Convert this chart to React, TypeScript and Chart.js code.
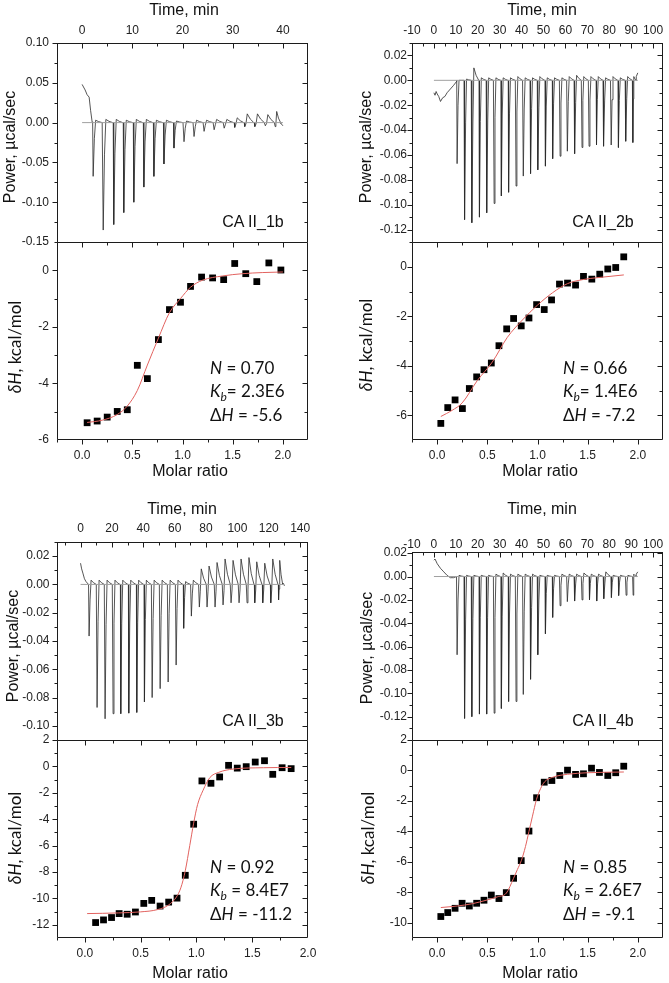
import React, { useEffect, useRef } from "react";
import { Chart, registerables } from "chart.js";
Chart.register(...registerables);

// ================= DATA =================
// ---- Panel 1 : CA II_1b ----
const p1TimeTicks = [0, 10, 20, 30, 40];
const p1PowerTicks = [-0.15, -0.1, -0.05, 0.0, 0.05, 0.1];
const p1DhTicks = [-6, -4, -2, 0];
const p1StartTrace = [[0, 0.048], [0.6, 0.041], [1.0, 0.035], [1.4, 0.032], [1.7, 0.015], [2.0, 0.001]];
const p1InjTimes = [2.1, 4.1, 6.2, 8.2, 10.2, 12.2, 14.2, 16.2, 18.2, 20.2, 22.2, 24.2, 26.2, 28.2, 30.3, 32.3, 34.3, 36.4, 38.4];
const p1PeakPower = [-0.0675, -0.135, -0.128, -0.113, -0.1, -0.081, -0.0675, -0.052, -0.032, -0.024, -0.0175, -0.011, -0.009, -0.007, -0.006, -0.005, -0.005, -0.004, -0.005];
const p1AfterPower = [0.003, 0.004, 0.004, 0.003, 0.004, 0.004, 0.003, 0.003, 0.002, 0.002, 0.003, 0.003, 0.004, 0.004, 0.006, 0.011, 0.011, 0.01, 0.014];
const p1EndTrace = [[39.6, -0.001], [40, -0.004]];
const p1BaseSpan = [0, 40];
const p1Molar = [0.05, 0.15, 0.25, 0.35, 0.45, 0.55, 0.65, 0.76, 0.87, 0.98, 1.08, 1.19, 1.3, 1.41, 1.52, 1.63, 1.74, 1.86, 1.98];
const p1Heat = [-5.39, -5.33, -5.19, -4.99, -4.93, -3.36, -3.83, -2.45, -1.39, -1.13, -0.57, -0.24, -0.27, -0.33, 0.24, -0.12, -0.4, 0.26, 0.01];
const p1FitMolar = [0.05, 0.2, 0.35, 0.45, 0.55, 0.65, 0.76, 0.87, 0.98, 1.08, 1.2, 1.4, 1.6, 1.8, 2.0];
const p1FitHeat = [-5.38, -5.3, -5.1, -4.8, -4.25, -3.35, -2.4, -1.5, -1.0, -0.6, -0.35, -0.2, -0.12, -0.08, -0.06];

// ---- Panel 2 : CA II_2b ----
const p2TimeTicks = [-10, 0, 10, 20, 30, 40, 50, 60, 70, 80, 90, 100];
const p2PowerTicks = [-0.12, -0.1, -0.08, -0.06, -0.04, -0.02, 0.0, 0.02];
const p2DhTicks = [-6, -4, -2, 0];
const p2StartTrace = [[0, -0.01], [0.5, -0.012], [1.0, -0.009], [1.5, -0.011], [2.2, -0.013], [3.0, -0.017], [4.0, -0.014], [5.0, -0.013], [6.0, -0.01], [7.5, -0.007], [9.0, -0.004], [10.3, -0.001]];
const p2InjTimes = [10.4, 13.9, 17.2, 20.6, 24.0, 27.3, 30.6, 33.9, 37.3, 40.6, 44.0, 47.3, 50.7, 54.0, 57.4, 60.7, 64.1, 67.4, 70.6, 74.0, 77.3, 80.7, 84.0, 87.4, 90.7];
const p2PeakPower = [-0.067, -0.112, -0.1145, -0.11, -0.1065, -0.099, -0.093, -0.09, -0.085, -0.077, -0.075, -0.072, -0.069, -0.063, -0.061, -0.057, -0.059, -0.054, -0.053, -0.052, -0.053, -0.052, -0.054, -0.049, -0.05];
const p2AfterPower = [0.0, 0.001, 0.01, 0.002, 0.002, 0.002, 0.002, 0.002, 0.003, 0.002, 0.002, 0.003, 0.002, 0.002, 0.002, 0.003, 0.004, 0.003, 0.003, 0.003, 0.002, 0.003, 0.002, 0.003, 0.003];
const p2EndTrace = [[92.3, 0.003], [93, 0.006]];
const p2BaseSpan = [0, 93];
const p2Molar = [0.037, 0.106, 0.179, 0.252, 0.321, 0.394, 0.467, 0.54, 0.616, 0.693, 0.762, 0.838, 0.915, 0.991, 1.067, 1.14, 1.219, 1.299, 1.379, 1.458, 1.541, 1.62, 1.7, 1.779, 1.859];
const p2Heat = [-6.33, -5.69, -5.38, -5.73, -4.92, -4.45, -4.16, -3.89, -3.19, -2.51, -2.09, -2.39, -2.07, -1.53, -1.73, -1.34, -0.7, -0.66, -0.74, -0.39, -0.5, -0.3, -0.09, -0.03, 0.4];
const p2FitMolar = [0.037, 0.15, 0.25, 0.4, 0.55, 0.7, 0.85, 1.0, 1.15, 1.3, 1.45, 1.6, 1.86];
const p2FitHeat = [-6.05, -5.8, -5.5, -4.6, -3.85, -2.85, -2.15, -1.55, -1.05, -0.68, -0.52, -0.44, -0.33];

// ---- Panel 3 : CA II_3b ----
const p3TimeTicks = [0, 20, 40, 60, 80, 100, 120, 140];
const p3PowerTicks = [-0.1, -0.08, -0.06, -0.04, -0.02, 0.0, 0.02];
const p3DhTicks = [-12, -10, -8, -6, -4, -2, 0, 2];
const p3StartTrace = [[0, 0.015], [0.7, 0.011], [1.5, 0.008], [2.5, 0.004], [3.5, 0.002], [5.1, 0.0]];
const p3InjTimes = [5.2, 10.3, 15.4, 20.5, 25.4, 30.5, 35.6, 40.5, 45.4, 50.5, 55.6, 60.7, 65.5, 70.4, 75.5, 80.4, 85.5, 90.6, 95.7, 100.8, 105.9, 110.8, 115.9, 121.0, 126.1];
const p3PeakPower = [-0.0365, -0.087, -0.095, -0.0914, -0.0914, -0.091, -0.0905, -0.083, -0.08, -0.0737, -0.069, -0.057, -0.031, -0.0224, -0.016, -0.016, -0.016, -0.0145, -0.013, -0.013, -0.013, -0.013, -0.013, -0.013, -0.011];
const p3AfterPower = [0.003, 0.003, 0.003, 0.003, 0.003, 0.003, 0.003, 0.003, 0.003, 0.003, 0.003, 0.003, 0.002, 0.003, 0.011, 0.013, 0.0155, 0.018, 0.017, 0.018, 0.019, 0.016, 0.015, 0.018, 0.017];
const p3EndTrace = [[129, 0.001], [130, -0.001]];
const p3BaseSpan = [0, 130];
const p3Molar = [0.096, 0.167, 0.239, 0.307, 0.379, 0.453, 0.528, 0.599, 0.674, 0.751, 0.826, 0.9, 0.975, 1.049, 1.13, 1.208, 1.288, 1.366, 1.446, 1.527, 1.61, 1.684, 1.768, 1.849];
const p3Heat = [-11.83, -11.63, -11.45, -11.15, -11.2, -11.03, -10.38, -10.15, -10.58, -10.28, -9.98, -8.25, -4.38, -1.1, -1.28, -0.8, 0.08, -0.13, -0.02, 0.33, 0.43, -0.6, -0.1, -0.17];
const p3FitMolar = [0.02, 0.3, 0.5, 0.65, 0.75, 0.82, 0.86, 0.9, 0.94, 0.975, 1.01, 1.06, 1.12, 1.2, 1.33, 1.6, 1.85];
const p3FitHeat = [-11.15, -11.1, -11.02, -10.85, -10.5, -9.9, -9.2, -7.9, -6.0, -4.3, -2.9, -1.8, -0.85, -0.45, -0.2, -0.1, -0.08];

// ---- Panel 4 : CA II_4b ----
const p4TimeTicks = [-10, 0, 10, 20, 30, 40, 50, 60, 70, 80, 90, 100];
const p4PowerTicks = [-0.12, -0.1, -0.08, -0.06, -0.04, -0.02, 0.0, 0.02];
const p4DhTicks = [-10, -8, -6, -4, -2, 0, 2];
const p4StartTrace = [[0, 0.014], [0.5, 0.015], [1.5, 0.011], [3, 0.007], [4.5, 0.004], [6, 0.001], [7.5, -0.001], [9, -0.001], [10.3, 0]];
const p4InjTimes = [10.4, 13.9, 17.2, 20.6, 23.9, 27.3, 30.6, 33.9, 37.3, 40.6, 44.0, 47.3, 50.7, 54.0, 57.4, 60.7, 64.1, 67.4, 70.8, 74.1, 77.4, 80.8, 84.1, 87.5, 90.8];
const p4PeakPower = [-0.067, -0.1215, -0.12, -0.1178, -0.1178, -0.117, -0.113, -0.107, -0.107, -0.101, -0.088, -0.067, -0.049, -0.035, -0.025, -0.0215, -0.021, -0.02, -0.02, -0.021, -0.019, -0.018, -0.0163, -0.016, -0.016];
const p4AfterPower = [0.001, 0.001, 0.001, 0.001, 0.001, 0.002, 0.003, 0.002, 0.002, 0.002, 0.002, 0.001, 0.001, 0.001, 0.002, 0.002, 0.002, 0.003, 0.002, 0.002, 0.004, 0.001, 0.001, 0.001, 0.002];
const p4EndTrace = [[92.3, 0.002], [93, 0.004]];
const p4BaseSpan = [0, 93];
const p4Molar = [0.037, 0.106, 0.179, 0.249, 0.321, 0.394, 0.467, 0.54, 0.616, 0.689, 0.762, 0.838, 0.915, 0.991, 1.067, 1.143, 1.222, 1.299, 1.379, 1.458, 1.538, 1.617, 1.7, 1.779, 1.859];
const p4Heat = [-9.59, -9.33, -9.05, -8.72, -8.9, -8.72, -8.52, -8.18, -8.41, -8.02, -7.08, -5.92, -3.98, -1.79, -0.77, -0.66, -0.33, 0.02, -0.26, -0.22, 0.15, -0.13, -0.33, -0.15, 0.28];
const p4FitMolar = [0.037, 0.2, 0.35, 0.5, 0.6, 0.69, 0.76, 0.8, 0.84, 0.88, 0.915, 0.95, 0.99, 1.03, 1.07, 1.15, 1.3, 1.5, 1.86];
const p4FitHeat = [-9.0, -8.9, -8.75, -8.5, -8.3, -8.05, -7.1, -6.5, -5.9, -5.0, -4.0, -3.0, -1.9, -1.2, -0.75, -0.45, -0.25, -0.15, -0.1];

const molarTicks = [0, 0.5, 1.0, 1.5, 2.0];

// ================= LAYOUT / STYLE =================
const SANS = '"Liberation Sans", Arial, Helvetica, sans-serif';
const CAL = 'Lato, "Open Sans", "Noto Sans", sans-serif';
const EXTRA = 20;

type Pt = { x: number; y: number };

function buildTrace(start: number[][], times: number[], peaks: number[], after: number[], end: number[][]): Pt[] {
  const pts: Pt[] = start.map(([x, y]) => ({ x, y }));
  times.forEach((t, i) => {
    const d = i + 1 < times.length ? times[i + 1] - t : end[0][0] - t;
    pts.push({ x: t, y: 0 });
    pts.push({ x: t + 0.05 * d, y: peaks[i] });
    pts.push({ x: t + 0.17 * d, y: peaks[i] * 0.3 });
    pts.push({ x: t + 0.3 * d, y: after[i] });
    pts.push({ x: t + 0.6 * d, y: after[i] * 0.4 });
    pts.push({ x: t + 0.95 * d, y: 0 });
  });
  end.forEach(([x, y]) => pts.push({ x, y }));
  return pts;
}
const zipPts = (xs: number[], ys: number[]): Pt[] => xs.map((x, i) => ({ x, y: ys[i] }));

const panels = [
  {
    box: { left: 0, top: 0, width: 330, bottom: 485, plotL: 57, plotR: 308, plotT: 43, plotM: 242, plotB: 440 },
    time: { min: -5, max: 45, ticks: p1TimeTicks, minor: 5 },
    power: { min: -0.15, max: 0.1, ticks: p1PowerTicks, minor: 0.025 },
    molar: { min: -0.25, max: 2.25 },
    dh: { min: -6, max: 1, ticks: p1DhTicks, minor: 1 },
    pads: { y: 8, top: 5, bottom: 8 },
    trace: buildTrace(p1StartTrace, p1InjTimes, p1PeakPower, p1AfterPower, p1EndTrace),
    base: p1BaseSpan,
    pts: zipPts(p1Molar, p1Heat),
    fit: zipPts(p1FitMolar, p1FitHeat),
    label: "CA II_1b",
    params: ["0.70", "2.3E6", "-5.6"],
    kSpace: "",
    titles: { time: [184, 10], power: [10, 147], dh: [15, 347], molar: [190, 471], ca: [253, 222], ann: [210, 368] },
  },
  {
    box: { left: 330, top: 0, width: 339, bottom: 485, plotL: 412, plotR: 663, plotT: 43, plotM: 242, plotB: 440 },
    time: { min: -10, max: 104.5, ticks: p2TimeTicks, minor: 5 },
    power: { min: -0.13, max: 0.03, ticks: p2PowerTicks, minor: 0.01 },
    molar: { min: -0.25, max: 2.25 },
    dh: { min: -7, max: 1, ticks: p2DhTicks, minor: 1 },
    pads: { y: 5, top: 5, bottom: 8 },
    trace: buildTrace(p2StartTrace, p2InjTimes, p2PeakPower, p2AfterPower, p2EndTrace),
    base: p2BaseSpan,
    pts: zipPts(p2Molar, p2Heat),
    fit: zipPts(p2FitMolar, p2FitHeat),
    label: "CA II_2b",
    params: ["0.66", "1.4E6", "-7.2"],
    kSpace: "",
    titles: { time: [542, 10], power: [366, 147], dh: [366, 345], molar: [540, 471], ca: [603, 222], ann: [563, 368] },
  },
  {
    box: { left: 0, top: 485, width: 330, bottom: 983, plotL: 57, plotR: 308, plotT: 542, plotM: 740, plotB: 938 },
    time: { min: -15, max: 145, ticks: p3TimeTicks, minor: 10 },
    power: { min: -0.11, max: 0.03, ticks: p3PowerTicks, minor: 0.01 },
    molar: { min: -0.25, max: 2.0 },
    dh: { min: -13, max: 2, ticks: p3DhTicks, minor: 1 },
    pads: { y: 7.5, top: 6.5, bottom: 8 },
    trace: buildTrace(p3StartTrace, p3InjTimes, p3PeakPower, p3AfterPower, p3EndTrace),
    base: p3BaseSpan,
    pts: zipPts(p3Molar, p3Heat),
    fit: zipPts(p3FitMolar, p3FitHeat),
    label: "CA II_3b",
    params: ["0.92", "8.4E7", "-11.2"],
    kSpace: " ",
    titles: { time: [182, 509], power: [13, 646], dh: [15, 838], molar: [190, 973], ca: [253, 721], ann: [210, 867] },
  },
  {
    box: { left: 330, top: 485, width: 339, bottom: 983, plotL: 412, plotR: 663, plotT: 552, plotM: 740, plotB: 938 },
    time: { min: -10, max: 104.5, ticks: p4TimeTicks, minor: 5 },
    power: { min: -0.14, max: 0.021, ticks: p4PowerTicks, minor: 0.01 },
    molar: { min: -0.25, max: 2.25 },
    dh: { min: -11, max: 2, ticks: p4DhTicks, minor: 1 },
    pads: { y: 5, top: 0.5, bottom: 8 },
    trace: buildTrace(p4StartTrace, p4InjTimes, p4PeakPower, p4AfterPower, p4EndTrace),
    base: p4BaseSpan,
    pts: zipPts(p4Molar, p4Heat),
    fit: zipPts(p4FitMolar, p4FitHeat),
    label: "CA II_4b",
    params: ["0.85", "2.6E7", "-9.1"],
    kSpace: " ",
    titles: { time: [542, 509], power: [367, 648], dh: [368, 838], molar: [540, 973], ca: [603, 721], ann: [563, 867] },
  },
];

// ================= PLUGIN: frame + ticks =================
function minorVals(min: number, max: number, step: number, majors: number[]) {
  const out: number[] = [];
  const n0 = Math.ceil(min / step - 1e-9);
  const n1 = Math.floor(max / step + 1e-9);
  for (let n = n0; n <= n1; n++) {
    const v = n * step;
    if (!majors.some((m) => Math.abs(m - v) < step * 1e-3)) out.push(v);
  }
  return out;
}

const frameTicksPlugin = {
  id: "frameTicks",
  afterDatasetsDraw(chart: any, _a: any, opts: any) {
    const { ctx, chartArea: a } = chart;
    const xs = chart.scales.x;
    const ys = chart.scales.y;
    const L = a.left + 0.5, R = a.right - 0.5, T = a.top + 0.5, B = a.bottom - 0.5;
    ctx.save();
    ctx.strokeStyle = "#1c1c1c";
    ctx.lineWidth = 1;
    ctx.beginPath();
    ctx.moveTo(L, opts.lower ? T : a.top);
    ctx.lineTo(L, opts.lower ? B : a.bottom);
    ctx.moveTo(R, opts.lower ? T : a.top);
    ctx.lineTo(R, opts.lower ? B : a.bottom);
    ctx.moveTo(L, T);
    ctx.lineTo(R, T);
    if (opts.lower) {
      ctx.moveTo(L, B);
      ctx.lineTo(R, B);
    }
    const xMaj = opts.xMajor as number[];
    const xMin = minorVals(xs.min, xs.max, opts.xMinor, xMaj);
    const yMaj = opts.yMajor as number[];
    const yMin = minorVals(ys.min, ys.max, opts.yMinor, yMaj);
    const tx = (vals: number[], y: number, dir: number, len: number) => {
      vals.forEach((v) => {
        const p = Math.round(xs.getPixelForValue(v)) + 0.5;
        if (p < a.left || p > a.right) return;
        ctx.moveTo(p, y);
        ctx.lineTo(p, y + dir * len);
      });
    };
    const ty = (vals: number[], x: number, dir: number, len: number) => {
      vals.forEach((v) => {
        const p = Math.round(ys.getPixelForValue(v)) + 0.5;
        if (p < a.top || p > a.bottom) return;
        ctx.moveTo(x, p);
        ctx.lineTo(x + dir * len, p);
      });
    };
    tx(xMaj, T, 1, 5);
    tx(xMin, T, 1, 3);
    if (opts.lower) {
      tx(xMaj, B, 1, 5);
      tx(xMin, B, 1, 3);
    }
    ty(yMaj, L, -1, 5);
    ty(yMin, L, -1, 3);
    ty(yMaj, R, -1, 5);
    ty(yMin, R, -1, 3);
    ctx.stroke();
    ctx.restore();
  },
};

function axisCommon(pad: number) {
  return {
    type: "linear",
    grid: { display: false, drawTicks: false },
    border: { display: false },
    ticks: {
      padding: pad,
      color: "#222",
      font: { family: SANS, size: 12 },
      autoSkip: false,
      maxRotation: 0,
      minRotation: 0,
      includeBounds: false,
    },
  };
}

function topConfig(p: any): any {
  const b = p.box;
  const xa: any = axisCommon(p.pads.top);
  const ya: any = axisCommon(p.pads.y);
  return {
    type: "line",
    data: {
      datasets: [
        {
          data: [{ x: p.base[0], y: 0 }, { x: p.base[1], y: 0 }],
          borderColor: "#a0a0a0",
          borderWidth: 1,
          pointRadius: 0,
        },
        { data: p.trace, borderColor: "#2b2b2b", borderWidth: 0.8, pointRadius: 0 },
      ],
    },
    options: {
      animation: false,
      responsive: false,
      devicePixelRatio: 1,
      events: [],
      layout: { padding: { left: 0, top: 0, right: b.left + b.width - b.plotR, bottom: EXTRA } },
      plugins: {
        legend: { display: false },
        tooltip: { enabled: false },
        frameTicks: { lower: false, xMajor: p.time.ticks, xMinor: p.time.minor, yMajor: p.power.ticks, yMinor: p.power.minor },
      },
      scales: {
        x: {
          ...xa,
          position: "top",
          min: p.time.min,
          max: p.time.max,
          ticks: { ...xa.ticks, callback: (v: number) => String(v) },
          afterBuildTicks: (s: any) => {
            s.ticks = p.time.ticks.map((v: number) => ({ value: v }));
          },
          afterFit: (s: any) => {
            s.height = b.plotT - b.top;
            s.paddingLeft = 0;
            s.paddingRight = 0;
          },
        },
        y: {
          ...ya,
          position: "left",
          min: p.power.min,
          max: p.power.max,
          ticks: { ...ya.ticks, callback: (v: number) => v.toFixed(2) },
          afterBuildTicks: (s: any) => {
            s.ticks = p.power.ticks.map((v: number) => ({ value: v }));
          },
          afterFit: (s: any) => {
            s.width = b.plotL - b.left;
            s.paddingTop = 0;
            s.paddingBottom = 0;
          },
        },
      },
    },
    plugins: [frameTicksPlugin],
  };
}

function lowerConfig(p: any): any {
  const b = p.box;
  const xa: any = axisCommon(p.pads.bottom);
  const ya: any = axisCommon(p.pads.y);
  return {
    type: "line",
    data: {
      datasets: [
        {
          data: p.fit,
          borderColor: "#e2625f",
          borderWidth: 1,
          pointRadius: 0,
          cubicInterpolationMode: "monotone",
        },
        {
          data: p.pts,
          showLine: false,
          pointStyle: "rect",
          pointRadius: 4.8,
          backgroundColor: "#000",
          borderColor: "#000",
          borderWidth: 0,
        },
      ],
    },
    options: {
      animation: false,
      responsive: false,
      devicePixelRatio: 1,
      events: [],
      layout: { padding: { left: 0, top: EXTRA, right: b.left + b.width - b.plotR, bottom: 0 } },
      plugins: {
        legend: { display: false },
        tooltip: { enabled: false },
        frameTicks: { lower: true, xMajor: molarTicks, xMinor: 0.25, yMajor: p.dh.ticks, yMinor: p.dh.minor },
      },
      scales: {
        x: {
          ...xa,
          position: "bottom",
          min: p.molar.min,
          max: p.molar.max,
          ticks: { ...xa.ticks, callback: (v: number) => v.toFixed(1) },
          afterBuildTicks: (s: any) => {
            s.ticks = molarTicks.map((v: number) => ({ value: v }));
          },
          afterFit: (s: any) => {
            s.height = b.bottom - b.plotB;
            s.paddingLeft = 0;
            s.paddingRight = 0;
          },
        },
        y: {
          ...ya,
          position: "left",
          min: p.dh.min,
          max: p.dh.max,
          ticks: { ...ya.ticks, callback: (v: number) => String(v) },
          afterBuildTicks: (s: any) => {
            s.ticks = p.dh.ticks.map((v: number) => ({ value: v }));
          },
          afterFit: (s: any) => {
            s.width = b.plotL - b.left;
            s.paddingTop = 0;
            s.paddingBottom = 0;
          },
        },
      },
    },
    plugins: [frameTicksPlugin],
  };
}

function ChartCanvas({ x, y, w, h, make }: { x: number; y: number; w: number; h: number; make: () => any }) {
  const ref = useRef<HTMLCanvasElement>(null);
  useEffect(() => {
    const chart = new Chart(ref.current as HTMLCanvasElement, make());
    return () => chart.destroy();
  }, []);
  return (
    <canvas
      ref={ref}
      width={w}
      height={h}
      style={{ position: "absolute", left: x, top: y, width: w, height: h, display: "block" }}
    />
  );
}

function Txt({ x, y, children, rot, font, anchor }: any) {
  const tr = anchor === "left" ? "translate(0,-50%)" : "translate(-50%,-50%)";
  return (
    <div
      style={{
        position: "absolute",
        left: x,
        top: y,
        transform: rot ? `${tr} rotate(-90deg)` : tr,
        font,
        lineHeight: "20px",
        whiteSpace: "nowrap",
        color: "#111",
      }}
    >
      {children}
    </div>
  );
}

function Panel({ p }: { p: any }) {
  const b = p.box;
  const t = p.titles;
  const sub = { fontSize: 12, position: "relative" as const, top: 4, fontStyle: "italic" };
  return (
    <>
      <ChartCanvas x={b.left} y={b.top} w={b.width} h={b.plotM - b.top + EXTRA} make={() => topConfig(p)} />
      <ChartCanvas x={b.left} y={b.plotM - EXTRA} w={b.width} h={b.bottom - b.plotM + EXTRA} make={() => lowerConfig(p)} />
      <Txt x={t.time[0]} y={t.time[1]} font={`16px ${SANS}`}>Time, min</Txt>
      <Txt x={t.molar[0]} y={t.molar[1]} font={`16px ${SANS}`}>Molar ratio</Txt>
      <Txt x={t.power[0]} y={t.power[1]} rot font={`16px ${SANS}`}>Power, µcal/sec</Txt>
      <Txt x={t.dh[0]} y={t.dh[1]} rot font={`17px ${CAL}`}>
        <i>δH</i>, kcal/mol
      </Txt>
      <Txt x={t.ca[0]} y={t.ca[1]} font={`16px ${SANS}`}>{p.label}</Txt>
      <Txt x={t.ann[0]} y={t.ann[1]} anchor="left" font={`17px ${CAL}`}>
        <i>N</i> = {p.params[0]}
      </Txt>
      <Txt x={t.ann[0]} y={t.ann[1] + 23.5} anchor="left" font={`17px ${CAL}`}>
        <i>K</i>
        <span style={sub}>b</span>
        {p.kSpace}= {p.params[1]}
      </Txt>
      <Txt x={t.ann[0]} y={t.ann[1] + 47} anchor="left" font={`17px ${CAL}`}>
        Δ<i>H</i> = {p.params[2]}
      </Txt>
    </>
  );
}

export default function App() {
  return (
    <div style={{ position: "absolute", left: 0, top: 0, width: 669, height: 983, background: "#fff", overflow: "hidden" }}>
      {panels.map((p, i) => (
        <Panel key={i} p={p} />
      ))}
    </div>
  );
}
